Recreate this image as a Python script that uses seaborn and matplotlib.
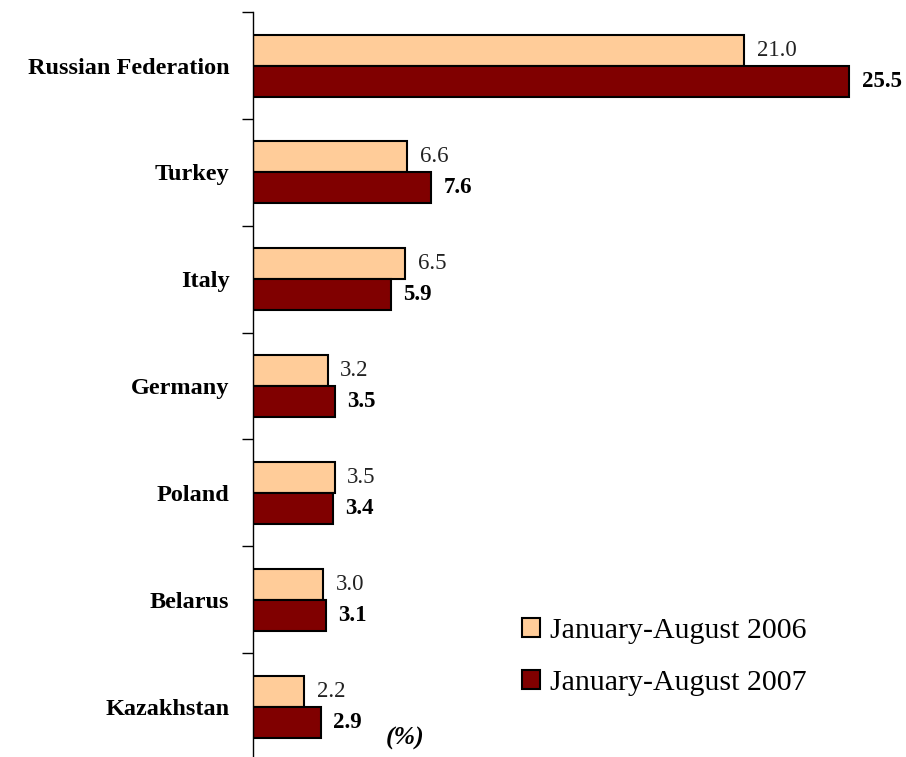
import matplotlib
matplotlib.use("Agg")
import matplotlib.pyplot as plt
import seaborn as sns
import pandas as pd

countries = ["Russian Federation", "Turkey", "Italy", "Germany", "Poland", "Belarus", "Kazakhstan"]
v2006 = [21.0, 6.6, 6.5, 3.2, 3.5, 3.0, 2.2]
v2007 = [25.5, 7.6, 5.9, 3.5, 3.4, 3.1, 2.9]
series = ["January-August 2006", "January-August 2007"]
colors = ["#FFCC99", "#800000"]

df = pd.DataFrame({
    "country": countries * 2,
    "value": v2006 + v2007,
    "period": [series[0]] * len(countries) + [series[1]] * len(countries),
})

sns.set_theme(style="white")
plt.rcParams["font.family"] = ["Liberation Serif", "DejaVu Serif"]
plt.rcParams["text.color"] = "black"
plt.rcParams["ytick.color"] = "black"

fig = plt.figure(figsize=(9.06, 7.57), dpi=100)
ax = fig.add_axes([253 / 906, -0.004, 0.71, 0.988])

sns.barplot(data=df, y="country", x="value", hue="period", orient="h",
            palette=colors, order=countries, hue_order=series,
            width=0.58, gap=0, edgecolor="black", linewidth=1.5, ax=ax,
            saturation=1)

ax.set_xlim(0, 27.5)
ax.set_ylim(6.5, -0.5)
ax.set_xlabel("")
ax.set_ylabel("")
ax.set_xticks([])
for s in ["top", "right", "bottom"]:
    ax.spines[s].set_visible(False)
ax.spines["left"].set_color("black")
ax.spines["left"].set_linewidth(1.0)

# ticks at category boundaries
ax.set_yticks([i - 0.5 for i in range(len(countries) + 1)], minor=False)
ax.set_yticklabels([])
ax.tick_params(axis="y", which="major", direction="out", length=8, width=1.0,
               color="black", left=True)
ax.set_yticks(range(len(countries)), minor=True)
ax.set_yticklabels(countries, minor=True, fontsize=17.5, fontweight="bold",
                   color="black")
ax.tick_params(axis="y", which="minor", length=0, pad=17)

containers = ax.containers
ax.bar_label(containers[0], labels=[f"{v:.1f}" for v in v2006], padding=9,
             fontsize=16.5, color="#222222")
ax.bar_label(containers[1], labels=[f"{v:.1f}" for v in v2007], padding=9,
             fontsize=16.5, fontweight="bold", color="black")

handles, labels = ax.get_legend_handles_labels()
leg = ax.legend(handles, labels, loc="center left",
                bbox_to_anchor=(495 / 906, 1 - 657 / 757),
                bbox_transform=fig.transFigure, frameon=False,
                fontsize=21.5, labelspacing=0.85, handlelength=0.6,
                handleheight=0.6, handletextpad=0.35)
for t in leg.get_texts():
    t.set_color("black")

fig.text(386 / 906, 1 - 738 / 757, "(%)", fontsize=18.5, fontweight="bold",
         fontstyle="italic", va="center", ha="left")

fig.savefig("out.png", dpi=100)
